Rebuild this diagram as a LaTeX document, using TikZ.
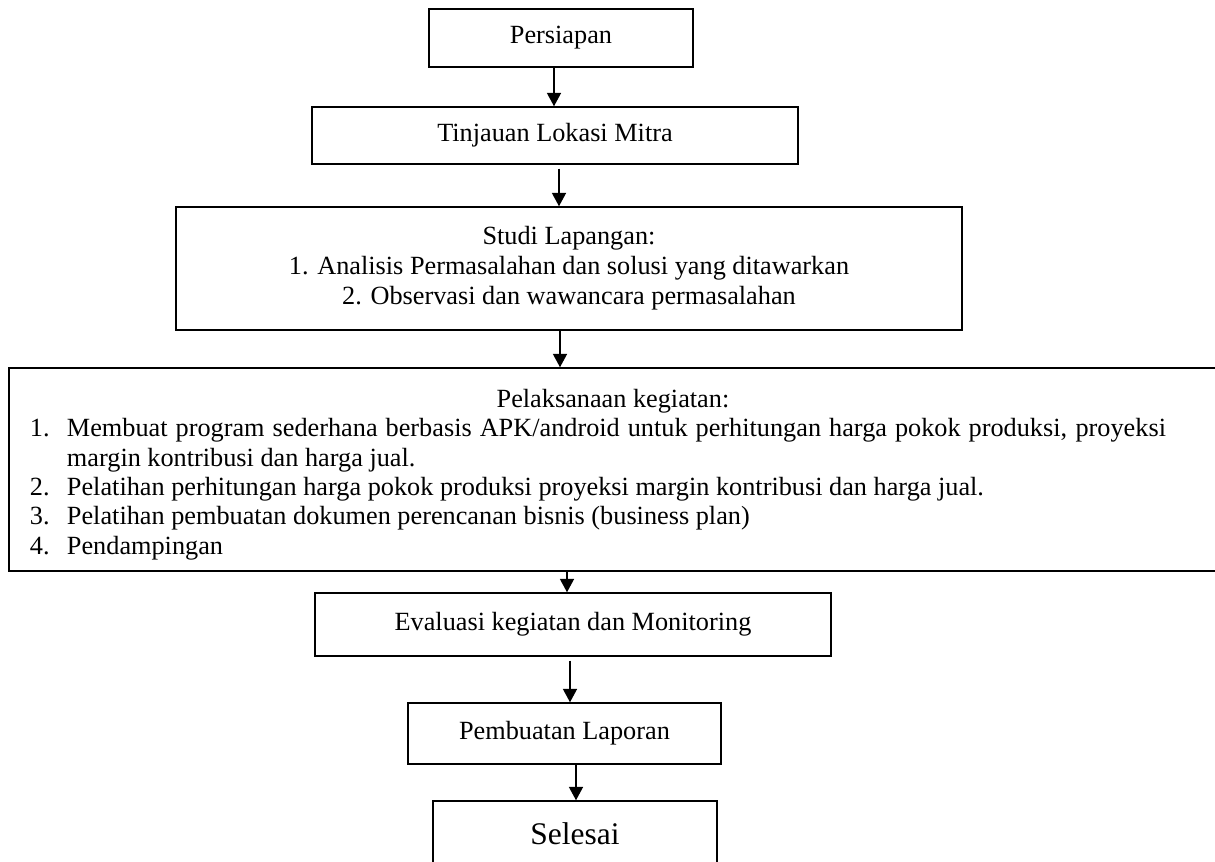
\documentclass[tikz,border=0pt]{standalone}
\usepackage{fontspec}
\setmainfont{Liberation Serif}
\usetikzlibrary{arrows.meta}
\begin{document}
\begin{tikzpicture}[x=0.75pt,y=-0.75pt,
  box/.style={draw, line width=1.1pt, inner sep=0pt, align=center,
    font=\fontsize{19.7}{22.5}\selectfont},
  arr/.style={line width=1.1pt, -{Triangle[width=10.5pt,length=10pt]}}]
\clip (0,0) rectangle (1215,862);
\useasboundingbox (0,0) rectangle (1215,862);

\node[box, minimum width={264*0.75pt}, minimum height={58*0.75pt}] (persiapan) at (561,38) {Persiapan};
\node[box, minimum width={486*0.75pt}, minimum height={57*0.75pt}] (tinjauan) at (555,135.5) {Tinjauan Lokasi Mitra};
\node[box, minimum width={786*0.75pt}, minimum height={123*0.75pt}] (studi) at (569,268.5)
  {Studi Lapangan:\\1. Analisis Permasalahan dan solusi yang ditawarkan\\2. Observasi dan wawancara permasalahan};
\node[draw, line width=1.1pt, inner ysep=0pt, inner xsep=15.75pt, minimum height={203*0.75pt},
      font=\fontsize{19.7}{22}\selectfont] (pel) at (613,469.5)
  {\begin{minipage}{874.5pt}\fontsize{19.7}{22}\selectfont
   \vspace*{7.5pt}%
   {\centering Pelaksanaan kegiatan:\par}
   \leftskip=0pt \rightskip=22.5pt \parfillskip=0pt plus 1fil \parindent=0pt
   \hangindent=27.75pt\hangafter=1\makebox[27.75pt][l]{1.}Membuat program sederhana berbasis APK/android untuk perhitungan harga pokok produksi, proyeksi\linebreak margin kontribusi dan harga jual.\par
   \hangindent=27.75pt\hangafter=1\makebox[27.75pt][l]{2.}Pelatihan perhitungan harga pokok produksi proyeksi margin kontribusi dan harga jual.\par
   \hangindent=27.75pt\hangafter=1\makebox[27.75pt][l]{3.}Pelatihan pembuatan dokumen perencanan bisnis (business plan)\par
   \hangindent=27.75pt\hangafter=1\makebox[27.75pt][l]{4.}Pendampingan\par
   \end{minipage}};
\node[box, minimum width={516*0.75pt}, minimum height={63*0.75pt}] (eval) at (573,624.5) {Evaluasi kegiatan dan Monitoring};
\node[box, minimum width={313*0.75pt}, minimum height={61*0.75pt}] (pemb) at (564.5,733.5) {Pembuatan Laporan};
\node[box, minimum width={284*0.75pt}, minimum height={66*0.75pt}, font=\fontsize{23.6}{27}\selectfont] (selesai) at (575,834) {Selesai};

\coordinate (c1) at (554,0);
\coordinate (c2) at (559,0);
\coordinate (c3) at (560,0);
\coordinate (c4) at (567,0);
\coordinate (c5) at (570,0);
\coordinate (c6) at (576,0);
\draw[arr] (persiapan.south -| c1) -- (tinjauan.north -| c1);
\draw[arr, shorten <=3pt] (tinjauan.south -| c2) -- (studi.north -| c2);
\draw[arr] (studi.south -| c3) -- (pel.north -| c3);
\draw[arr] (pel.south -| c4) -- (eval.north -| c4);
\draw[arr, shorten <=3pt] (eval.south -| c5) -- (pemb.north -| c5);
\draw[arr] (pemb.south -| c6) -- (selesai.north -| c6);
\end{tikzpicture}
\end{document}
